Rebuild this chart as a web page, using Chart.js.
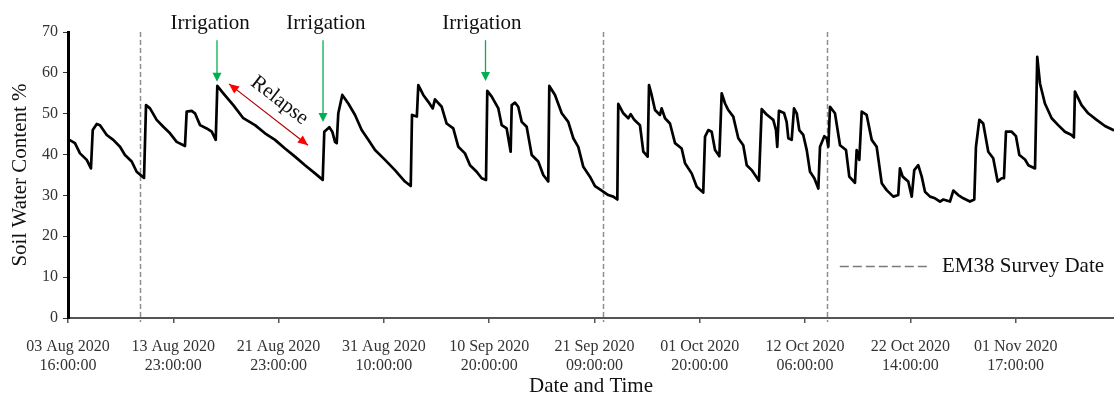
<!DOCTYPE html>
<html>
<head>
<meta charset="utf-8">
<title>Soil Water Content</title>
<script src="https://cdn.jsdelivr.net/npm/chart.js@4.4.1/dist/chart.umd.min.js"></script>
<style>
  html, body { margin: 0; padding: 0; background: #fff; overflow: hidden; }
</style>
</head>
<body>
<canvas id="swc" width="1114" height="394"></canvas>
<script>
// one axis label every 100 records
const tickLabels = [
  ["03 Aug 2020", "16:00:00"],
  ["13 Aug 2020", "23:00:00"],
  ["21 Aug 2020", "23:00:00"],
  ["31 Aug 2020", "10:00:00"],
  ["10 Sep 2020", "20:00:00"],
  ["21 Sep 2020", "09:00:00"],
  ["01 Oct 2020", "20:00:00"],
  ["12 Oct 2020", "06:00:00"],
  ["22 Oct 2020", "14:00:00"],
  ["01 Nov 2020", "17:00:00"]
];

// record number of each logged reading
const recordIndex = [
  0, 6.6, 11.4, 17.8, 21.8, 23.5, 27.3, 30.4, 36.8, 43.0, 49.4, 54.1, 60.5, 65.2, 72.2, 74.1, 77.9, 84.2, 90.5, 96.9,
  103.2, 111.1, 112.7, 117.5, 120.6, 125.4, 131.7, 136.5, 140.3, 141.8, 147.5, 157.0, 166.5, 177.6, 187.1, 196.6, 206.1, 215.6, 225.1, 234.6,
  241.9, 243.4, 248.2, 251.0, 253.6, 255.2, 256.7, 260.5, 266.2, 272.6, 278.9, 285.2, 291.6, 301.1, 310.5, 320.0, 325.5, 326.7, 331.3, 332.7,
  337.4, 342.2, 346.4, 348.5, 354.9, 359.6, 365.9, 370.7, 377.0, 381.8, 388.1, 392.9, 397.0, 398.2, 402.4, 408.7, 411.9, 416.6, 420.4, 421.4,
  424.5, 427.6, 430.9, 435.6, 440.4, 446.6, 451.4, 456.1, 457.1, 462.5, 468.9, 475.1, 479.9, 484.6, 489.4, 495.7, 500.5, 505.2, 513.1, 517.9,
  521.7, 522.6, 527.4, 532.1, 534.4, 537.8, 543.2, 546.4, 550.5, 551.8, 554.3, 557.5, 562.2, 563.8, 567.0, 571.7, 576.5, 582.8, 586.0, 592.3,
  597.1, 603.3, 605.0, 608.1, 611.3, 614.5, 618.6, 620.8, 624.0, 627.1, 631.8, 636.6, 641.3, 644.6, 649.3, 656.2, 658.8, 663.5, 669.8, 672.4,
  673.6, 675.2, 680.0, 682.5, 684.1, 687.3, 689.5, 692.1, 694.5, 698.3, 701.6, 704.7, 708.8, 712.6, 714.2, 718.3, 720.6, 722.1, 723.7, 728.4,
  733.2, 738.9, 742.0, 747.4, 749.0, 751.5, 753.8, 758.5, 763.3, 768.0, 772.8, 777.5, 783.8, 788.5, 790.1, 792.7, 798.0, 801.3, 803.7, 807.5,
  810.8, 813.9, 818.7, 823.4, 828.2, 831.3, 837.6, 840.8, 845.5, 850.3, 856.6, 860.7, 862.3, 865.5, 869.2, 874.0, 878.7, 882.9, 886.7, 888.9,
  890.8, 896.2, 900.3, 903.5, 908.9, 912.0, 918.4, 920.5, 923.1, 927.8, 934.2, 940.4, 946.8, 953.1, 955.3, 956.3, 962.6, 968.9, 976.9, 984.8, 992.7, 993.4
];

// soil water content (%) at each record
const waterContent = [
  43.8, 42.8, 40.3, 38.7, 36.6, 46.0, 47.5, 47.2, 44.8, 43.6, 41.9, 39.9, 38.3, 35.8, 34.3, 52.1, 51.3, 48.5, 46.8, 45.2,
  43.1, 42.1, 50.5, 50.7, 50.1, 47.2, 46.4, 45.6, 43.6, 56.8, 55.0, 52.1, 48.9, 47.2, 45.2, 43.6, 41.5, 39.5, 37.4, 35.4,
  33.8, 45.6, 46.7, 45.6, 43.1, 42.8, 50.1, 54.6, 52.5, 49.7, 46.0, 43.6, 41.1, 38.7, 36.2, 33.4, 32.3, 49.7, 49.3, 57.0,
  54.6, 52.9, 51.3, 53.5, 51.7, 47.6, 46.4, 41.9, 40.3, 37.4, 35.8, 34.2, 33.8, 55.6, 54.2, 51.3, 47.2, 46.4, 40.7, 52.1,
  52.7, 51.7, 48.0, 46.8, 39.9, 38.3, 35.0, 33.4, 56.8, 54.6, 50.1, 48.0, 44.0, 41.9, 37.0, 34.6, 32.3, 31.5, 30.1, 29.7,
  29.0, 52.4, 50.1, 48.9, 49.9, 48.5, 47.2, 40.7, 39.5, 57.0, 54.6, 50.9, 49.7, 51.3, 48.9, 47.6, 42.8, 41.5, 37.9, 35.4,
  32.1, 30.7, 44.4, 46.0, 45.6, 41.1, 39.6, 55.0, 52.5, 50.9, 49.3, 44.0, 42.3, 37.4, 36.2, 33.6, 51.1, 49.8, 48.5, 46.0,
  41.9, 50.7, 50.2, 48.0, 44.0, 43.6, 51.3, 50.1, 46.0, 44.8, 41.1, 35.8, 34.2, 31.7, 41.9, 44.5, 44.0, 41.9, 51.7, 50.1,
  42.3, 41.1, 34.6, 33.1, 41.1, 38.7, 50.5, 49.7, 43.6, 41.9, 33.0, 31.3, 29.7, 30.1, 36.6, 34.6, 33.4, 29.7, 36.2, 37.4,
  34.6, 30.9, 29.7, 29.3, 28.5, 29.0, 28.5, 31.2, 30.1, 29.3, 28.5, 29.0, 41.9, 48.5, 47.6, 40.7, 39.1, 33.4, 34.2, 34.2,
  45.6, 45.6, 44.5, 39.9, 38.8, 37.4, 36.6, 63.9, 57.4, 52.5, 48.9, 47.2, 45.6, 44.8, 44.2, 55.4, 52.1, 50.1, 48.5, 47.0, 46.0, 45.9
];

// EM38 survey dates (record number)
const surveyRecords = [68.4, 508.1, 720.8];

// irrigation events: arrow record, label record, value the arrow points to
const irrigationRecords = [141.5, 242.2, 396.5];
const irrigationLabelRecords = [135, 245, 393];
const irrigationTips = [57.8, 48.0, 58.0];

// relapse after the first irrigation
const relapseStart = { x: 152.9, y: 57.3 };
const relapseEnd = { x: 227.9, y: 42.3 };

const SERIF = '"Liberation Serif", "Times New Roman", serif';

function arrowHead(ctx, x1, y1, x2, y2, len, half, color) {
  const a = Math.atan2(y2 - y1, x2 - x1);
  ctx.fillStyle = color;
  ctx.beginPath();
  ctx.moveTo(x2, y2);
  ctx.lineTo(x2 - len * Math.cos(a) + half * Math.sin(a), y2 - len * Math.sin(a) - half * Math.cos(a));
  ctx.lineTo(x2 - len * Math.cos(a) - half * Math.sin(a), y2 - len * Math.sin(a) + half * Math.cos(a));
  ctx.closePath();
  ctx.fill();
}

const notes = {
  id: 'notes',
  beforeDatasetsDraw(chart) {
    const { ctx, scales: { x, y } } = chart;
    ctx.save();
    ctx.strokeStyle = '#8e8e8e';
    ctx.lineWidth = 1.5;
    ctx.setLineDash([5, 3]);
    surveyRecords.forEach(r => {
      const px = Math.round(x.getPixelForValue(r)) + 0.5;
      ctx.beginPath();
      ctx.moveTo(px, y.getPixelForValue(70));
      ctx.lineTo(px, y.getPixelForValue(0) + 4);
      ctx.stroke();
    });
    ctx.restore();
  },
  afterDraw(chart) {
    const { ctx, scales: { x, y } } = chart;
    ctx.save();

    // irrigation labels and green arrows
    ctx.font = '21px ' + SERIF;
    ctx.textAlign = 'center';
    ctx.textBaseline = 'middle';
    irrigationRecords.forEach((r, i) => {
      ctx.fillStyle = '#111';
      ctx.fillText('Irrigation', x.getPixelForValue(irrigationLabelRecords[i]), y.getPixelForValue(72.2));
      const px = x.getPixelForValue(r);
      const top = y.getPixelForValue(68);
      const tip = y.getPixelForValue(irrigationTips[i]);
      ctx.strokeStyle = '#00b050';
      ctx.lineWidth = 1.3;
      ctx.beginPath();
      ctx.moveTo(px, top);
      ctx.lineTo(px, tip - 8);
      ctx.stroke();
      arrowHead(ctx, px, top, px, tip, 9, 4.5, '#00b050');
    });

    // relapse double arrow
    const ax = x.getPixelForValue(relapseStart.x), ay = y.getPixelForValue(relapseStart.y);
    const bx = x.getPixelForValue(relapseEnd.x), by = y.getPixelForValue(relapseEnd.y);
    ctx.strokeStyle = '#b00000';
    ctx.lineWidth = 1.2;
    ctx.beginPath();
    ctx.moveTo(ax, ay);
    ctx.lineTo(bx, by);
    ctx.stroke();
    arrowHead(ctx, bx, by, ax, ay, 10, 4.5, '#ff0000');
    arrowHead(ctx, ax, ay, bx, by, 10, 4.5, '#ff0000');

    const angle = Math.atan2(by - ay, bx - ax);
    ctx.translate((ax + bx) / 2 + 11, (ay + by) / 2 - 14);
    ctx.rotate(angle);
    ctx.fillStyle = '#111';
    ctx.fillText('Relapse', 0, 0);
    ctx.setTransform(1, 0, 0, 1, 0, 0);

    // legend for the survey lines
    const ly = Math.round(y.getPixelForValue(12.7)) + 0.5;
    ctx.strokeStyle = '#7a7a7a';
    ctx.lineWidth = 1.3;
    ctx.setLineDash([9, 4]);
    ctx.beginPath();
    ctx.moveTo(x.getPixelForValue(733), ly);
    ctx.lineTo(x.getPixelForValue(819), ly);
    ctx.stroke();
    ctx.setLineDash([]);
    ctx.textAlign = 'left';
    ctx.fillStyle = '#111';
    ctx.fillText('EM38 Survey Date', x.getPixelForValue(830), ly);

    ctx.restore();
  }
};

new Chart(document.getElementById('swc'), {
  type: 'line',
  data: {
    datasets: [{
      data: recordIndex.map((r, i) => ({ x: r, y: waterContent[i] })),
      borderColor: '#000',
      borderWidth: 2.7,
      borderJoinStyle: 'round',
      pointRadius: 0,
      tension: 0
    }]
  },
  options: {
    responsive: false,
    animation: false,
    devicePixelRatio: 1,
    layout: { padding: { top: 32, right: 0, bottom: 0, left: 0 } },
    plugins: { legend: { display: false }, tooltip: { enabled: false } },
    scales: {
      x: {
        type: 'linear',
        min: 0,
        max: 993.4,
        afterBuildTicks: s => { s.ticks = tickLabels.map((_, i) => ({ value: i * 100 })); },
        afterFit: s => { s.height = 76; },
        ticks: {
          callback: v => tickLabels[Math.round(v / 100)],
          autoSkip: false,
          maxRotation: 0,
          padding: 15,
          color: '#333',
          font: { family: SERIF, size: 16, lineHeight: 1.15 }
        },
        grid: { drawOnChartArea: false, drawTicks: true, tickLength: 5, color: '#555', lineWidth: 1.5 },
        border: { color: '#555', width: 2 },
        title: {
          display: true,
          text: 'Date and Time',
          color: '#111',
          padding: 0,
          font: { family: SERIF, size: 21, lineHeight: 0.7 }
        }
      },
      y: {
        min: 0,
        max: 70,
        afterFit: s => { s.width = 68; },
        ticks: {
          stepSize: 10,
          padding: 5,
          color: '#333',
          font: { family: SERIF, size: 16 }
        },
        grid: { drawOnChartArea: false, drawTicks: true, tickLength: 5, color: '#333', lineWidth: 1 },
        border: { color: '#000', width: 3 },
        title: {
          display: true,
          text: 'Soil Water Content %',
          color: '#111',
          padding: { top: 8, bottom: 0 },
          font: { family: SERIF, size: 21, lineHeight: 1.2 }
        }
      }
    }
  },
  plugins: [notes]
});
</script>
</body>
</html>
